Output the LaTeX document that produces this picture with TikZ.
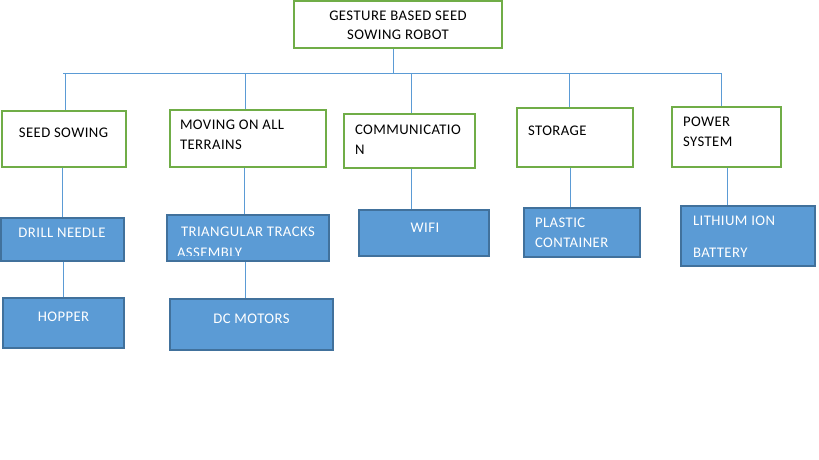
\documentclass[tikz,border=0pt]{standalone}
\usepackage{fontspec}
\setmainfont{Carlito}[LetterSpace=3]
\usetikzlibrary{backgrounds,calc}
\definecolor{grn}{HTML}{70AD47}
\definecolor{blu}{HTML}{5B9BD5}
\definecolor{dblu}{HTML}{41719C}
\tikzset{
  gbox/.style={draw=grn, line width=1.1pt, fill=white, rectangle, inner sep=0pt, outer sep=0pt, anchor=north west},
  bbox/.style={draw=dblu, line width=1.1pt, fill=blu, rectangle, inner sep=0pt, outer sep=0pt, anchor=north west},
  wire/.style={draw=blu, line width=1pt},
  lbl/.style={inner sep=0pt, outer sep=0pt, font=\fontsize{14.7}{20}\selectfont, text=black},
  wlbl/.style={lbl, text=white},
}
\begin{document}
\begin{tikzpicture}[x=1pt, y=-1pt]
\useasboundingbox (0,0) rectangle (819,460);
% level 0
\node[gbox, minimum width=208pt, minimum height=47pt] (top) at (294,1) {};
% level 1
\node[gbox, minimum width=124pt, minimum height=56pt] (seed) at (2,111) {};
\node[gbox, minimum width=156pt, minimum height=57pt] (moving) at (170,110) {};
\node[gbox, minimum width=131pt, minimum height=54pt] (comm) at (344,114) {};
\node[gbox, minimum width=116pt, minimum height=59pt] (storage) at (517,108) {};
\node[gbox, minimum width=109pt, minimum height=60pt] (power) at (672,107) {};
% level 2
\node[bbox, minimum width=123pt, minimum height=43pt] (drill) at (1,218) {};
\node[bbox, minimum width=162pt, minimum height=46pt] (tracks) at (167,215) {};
\node[bbox, minimum width=121pt, minimum height=50pt] (hopper) at (3,298) {};
\node[bbox, minimum width=163pt, minimum height=51pt] (dcm) at (170,299) {};
\node[bbox, minimum width=130pt, minimum height=46pt] (wifi) at (359,210) {};
\node[bbox, minimum width=116pt, minimum height=49pt] (plastic) at (524,208) {};
\node[bbox, minimum width=134pt, minimum height=60pt] (lith) at (681,206) {};
% connectors
\coordinate (t0) at (393,74);
\coordinate (busL) at (63,74);
\coordinate (busR) at (722,74);
\coordinate (k1) at (65,74);
\coordinate (k2) at (245,74);
\coordinate (k3) at (411,74);
\coordinate (k4) at (569,74);
\coordinate (k5) at (721,74);
\coordinate (s1) at (62,0);
\coordinate (s2) at (244,0);
\coordinate (s3) at (411,0);
\coordinate (s4) at (570,0);
\coordinate (s5) at (727,0);
\coordinate (s6) at (63,0);
\coordinate (s7) at (245,0);
\begin{scope}[on background layer]
\draw[wire] (top.south -| t0) -- (t0);
\draw[wire] (busL) -- (busR);
\draw[wire] (k1) -- (k1 |- seed.north);
\draw[wire] (k2) -- (k2 |- moving.north);
\draw[wire] (k3) -- (k3 |- comm.north);
\draw[wire] (k4) -- (k4 |- storage.north);
\draw[wire] (k5) -- (k5 |- power.north);
\draw[wire] (seed.south -| s1) -- (drill.north -| s1);
\draw[wire] (moving.south -| s2) -- (tracks.north -| s2);
\draw[wire] (comm.south -| s3) -- (wifi.north -| s3);
\draw[wire] (storage.south -| s4) -- (plastic.north -| s4);
\draw[wire] (power.south -| s5) -- (lith.north -| s5);
\draw[wire] (drill.south -| s6) -- (hopper.north -| s6);
\draw[wire] (tracks.south -| s7) -- (dcm.north -| s7);
\end{scope}
% texts
\node[lbl] (t1) at (398,16) {GESTURE BASED SEED};
\node[lbl] (t2) at (398,35) {SOWING ROBOT};
\node[lbl] (l1) at (63.5,133) {SEED SOWING};
\node[lbl, anchor=west] (l2a) at (180,125) {MOVING ON ALL};
\node[lbl, anchor=west] (l2b) at (180,145) {TERRAINS};
\node[lbl, anchor=west] (l3a) at (355,130) {COMMUNICATIO};
\node[lbl, anchor=west] (l3b) at (355,150) {N};
\node[lbl, anchor=west] (l4) at (528,131) {STORAGE};
\node[lbl, anchor=west] (l5a) at (683,122) {POWER};
\node[lbl, anchor=west] (l5b) at (683,142) {SYSTEM};
\node[wlbl] (m1) at (62,233) {DRILL NEEDLE};
\node[wlbl, anchor=west] (m2a) at (181,232) {TRIANGULAR TRACKS};
\begin{scope}
\clip (tracks.north west) rectangle ($(tracks.south east)+(0,-6)$);
\node[wlbl, anchor=west] (m2b) at (177,252.5) {ASSEMBLY};
\end{scope}
\node[wlbl] (m3) at (63.5,317) {HOPPER};
\node[wlbl] (m4) at (251.5,319) {DC MOTORS};
\node[wlbl] (m5) at (425,228) {WIFI};
\node[wlbl, anchor=west] (m6a) at (535,223) {PLASTIC};
\node[wlbl, anchor=west] (m6b) at (535,243) {CONTAINER};
\node[wlbl, anchor=west] (m7a) at (693,221) {LITHIUM ION};
\node[wlbl, anchor=west] (m7b) at (693,253) {BATTERY};
\end{tikzpicture}
\end{document}
